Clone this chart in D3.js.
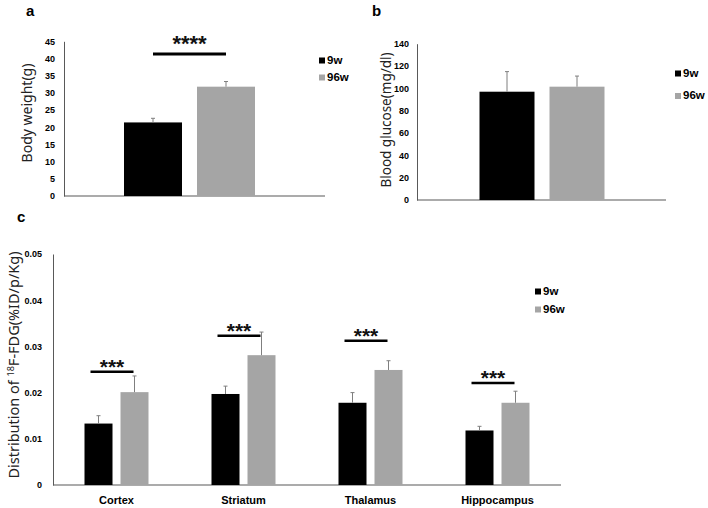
<!DOCTYPE html>
<html><head><meta charset="utf-8">
<script src="https://cdn.jsdelivr.net/npm/d3@7"></script>
<style>
body{margin:0;background:#fff;}
svg{display:block;font-family:"Liberation Sans",Arial,sans-serif;}
</style></head>
<body>
<svg id="chart" width="708" height="508"></svg>
<script>
// ---- data ----
const groups = ["9w", "96w"];
const groupColors = ["#000000", "#a5a5a5"];

const bwCategories = ["Body weight"];
const bw9w = [21.4], bw9wErr = [1.2];
const bw96w = [31.8], bw96wErr = [1.5];
const bwTicks = [0,5,10,15,20,25,30,35,40,45];
const bwSig = ["****"], bwSigLevel = [41.3];

const bgCategories = ["Blood glucose"];
const bg9w = [97], bg9wErr = [18];
const bg96w = [101.5], bg96wErr = [9.5];
const bgTicks = [0,20,40,60,80,100,120,140];

const fdgCategories = ["Cortex","Striatum","Thalamus","Hippocampus"];
const fdg9w = [0.0133, 0.0197, 0.0178, 0.0118];
const fdg9wErr = [0.0017, 0.0017, 0.0022, 0.0009];
const fdg96w = [0.0201, 0.0281, 0.0249, 0.0178];
const fdg96wErr = [0.0035, 0.0050, 0.0020, 0.0025];
const fdgTicks = [0, 0.01, 0.02, 0.03, 0.04, 0.05];
const fdgSig = ["***","***","***","***"];
const fdgSigLevel = [0.0245, 0.0323, 0.0312, 0.0221];

const svg = d3.select("#chart");
const axisColor = "#595959";
const errColor = "#7f7f7f";

function panel(opt){
  const g = svg.append("g");
  const y = d3.scaleLinear().domain(opt.domain).range([opt.y0, opt.y1]);
  const x = d3.scaleBand().domain(opt.cats).range(opt.bandRange);
  // axis
  const ax = g.append("g").attr("transform",`translate(${opt.axisX},0)`)
    .call(d3.axisLeft(y).tickValues(opt.ticks).tickSize(0).tickPadding(opt.tickPad)
      .tickFormat(opt.fmt || (d=>d)));
  ax.select(".domain").attr("stroke",axisColor).attr("stroke-width",1);
  ax.selectAll("text").attr("font-size",opt.tickSize||9).attr("font-weight","bold").attr("fill","#000");
  g.append("line").attr("x1",opt.axisX).attr("x2",opt.axisRight)
    .attr("y1",y(0)).attr("y2",y(0)).attr("stroke",axisColor).attr("stroke-width",1.2);
  const series = [[opt.v1,opt.e1],[opt.v2,opt.e2]];
  opt.cats.forEach((c,i)=>{
    const cx = x(c) + x.bandwidth()/2;
    series.forEach(([v,e],k)=>{
      const bx = cx + (k===0 ? -opt.gap/2 - opt.bw : opt.gap/2);
      g.append("rect").attr("x",bx).attr("y",y(v[i])).attr("width",opt.bw)
        .attr("height",y(0)-y(v[i])).attr("fill",groupColors[k]);
      const ex = bx + opt.bw/2;
      g.append("line").attr("x1",ex).attr("x2",ex).attr("y1",y(v[i])).attr("y2",y(v[i]+e[i]))
        .attr("stroke",errColor).attr("stroke-width",1);
      g.append("line").attr("x1",ex-2).attr("x2",ex+2).attr("y1",y(v[i]+e[i])).attr("y2",y(v[i]+e[i]))
        .attr("stroke",errColor).attr("stroke-width",1);
    });
    if(opt.sig){
      const lx1 = cx - opt.gap/2 - opt.bw/2 - opt.sigLeftOff;
      const lx2 = cx + opt.gap/2 + opt.bw/2 + opt.sigRightOff;
      const ly = y(opt.sigLevel[i]);
      g.append("line").attr("x1",lx1).attr("x2",lx2).attr("y1",ly).attr("y2",ly)
        .attr("stroke","#000").attr("stroke-width",opt.sigW);
      g.append("text").attr("x",(lx1+lx2)/2).attr("y",ly - opt.starGap + opt.starSize*0.58)
        .attr("text-anchor","middle").attr("font-size",opt.starSize).attr("font-weight","bold")
        .attr("letter-spacing",opt.starSpacing).attr("fill","#111").text(opt.sig[i]);
    }
    if(opt.showCat){
      g.append("text").attr("x",cx).attr("y",opt.catY).attr("text-anchor","middle")
        .attr("font-size",11).attr("font-weight","bold").text(c);
    }
  });
  // y title
  g.append("text").attr("transform",`translate(${opt.titleX},${opt.titleY}) rotate(-90)`)
    .attr("text-anchor","middle").attr("font-size",opt.titleSize).attr("font-family","\"Noto Sans\",\"Liberation Sans\",sans-serif")
    .attr("fill","#222").call(opt.title);
  // legend
  groups.forEach((gname,k)=>{
    const ly = opt.legY + k*opt.legStep;
    g.append("rect").attr("x",opt.legX).attr("y",ly-6).attr("width",6).attr("height",6).attr("fill",groupColors[k]);
    g.append("text").attr("x",opt.legX+8).attr("y",ly).attr("font-size",11.5).attr("font-weight","bold").text(gname);
  });
  // panel letter
  g.append("text").attr("x",opt.letterX).attr("y",opt.letterY).attr("font-size",15).attr("font-weight","bold").text(opt.letter);
}

panel({
  cats: bwCategories, v1: bw9w, e1: bw9wErr, v2: bw96w, e2: bw96wErr,
  domain:[0,45], y0:196, y1:41.3, ticks: bwTicks, axisX:64, axisRight:325, tickPad:9,
  bandRange:[64,315], bw:58, gap:15,
  sig: bwSig, sigLevel: bwSigLevel, sigLeftOff:0, sigRightOff:0, sigW:3, starGap:16, starSize:22, starSpacing:0,
  title: t=>t.text("Body weight(g)"), titleX:32, titleY:113, titleSize:14,
  legX:319, legY:63.5, legStep:17, letter:"a", letterX:26, letterY:16
});

panel({
  cats: bgCategories, v1: bg9w, e1: bg9wErr, v2: bg96w, e2: bg96wErr,
  domain:[0,140], y0:200, y1:43.7, ticks: bgTicks, axisX:417, axisRight:666, tickPad:8,
  bandRange:[417,667], bw:55, gap:15,
  title: t=>t.text("Blood glucose(mg/dl)"), titleX:391, titleY:120, titleSize:13.5,
  legX:675, legY:76.5, legStep:22.5, letter:"b", letterX:372, letterY:16
});

panel({
  cats: fdgCategories, v1: fdg9w, e1: fdg9wErr, v2: fdg96w, e2: fdg96wErr,
  domain:[0,0.05], y0:485, y1:254, ticks: fdgTicks, axisX:53, axisRight:561, tickPad:11,
  fmt: d=> d===0 ? "0" : d3.format(".2f")(d),
  bandRange:[53,561], bw:28, gap:8,
  sig: fdgSig, sigLevel: fdgSigLevel, sigLeftOff:8, sigRightOff:-1, sigW:2.5, starGap:10, starSize:21, starSpacing:0,
  showCat:true, catY:504,
  title: t=>{ t.append("tspan").text("Distribution of ");
              t.append("tspan").attr("font-size",9).attr("dy",-5).text("18");
              t.append("tspan").attr("dy",5).text("F-FDG(%ID/p/Kg)"); },
  titleX:19, titleY:365, titleSize:14.5,
  legX:535, legY:294.5, legStep:18, letter:"c", letterX:17, letterY:222
});
</script>
</body></html>
